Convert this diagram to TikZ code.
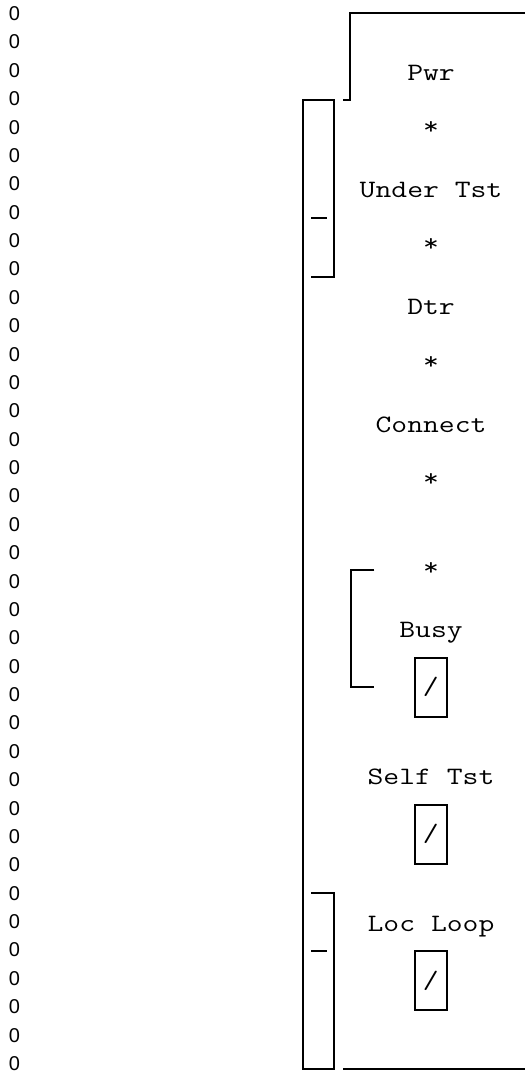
\documentclass[tikz,border=0pt]{standalone}
\usepackage{fontspec}
\newfontfamily\zerofont{Liberation Sans}
\newfontfamily\panelfont[FakeStretch=1.23]{Latin Modern Mono}
\begin{document}
\begin{tikzpicture}[x=0.75pt,y=-0.75pt,
  zero/.style={font=\zerofont\fontsize{15}{18}\selectfont, anchor=base west, inner sep=0pt},
  lamp/.style={font=\panelfont\fontsize{18.75}{22}\selectfont, anchor=base, inner sep=0pt},
  switchbox/.style={draw, line width=1.7pt, minimum width=24pt, minimum height=44.25pt,
    inner sep=0pt, font=\panelfont\fontsize{18.75}{22}\selectfont},
  frame/.style={line width=1.7pt}]
\useasboundingbox (0,0) rectangle (524,1080);

% column of zeros down the left edge
\foreach \i in {0,...,37}
  \node[zero] (z\i) at (8.5,{20.5+28.378*\i}) {0};

% front-panel legends
\node[lamp] (pwr)     at (431,80.5)  {Pwr};
\node[lamp] (ast1)    at (431,135)   {*};
\node[lamp] (undertst) at (431,197.5) {Under Tst};
\node[lamp] (ast2)    at (431,252)   {*};
\node[lamp] (dtr)     at (431,315)   {Dtr};
\node[lamp] (ast3)    at (431,369)   {*};
\node[lamp] (connect) at (431,432)   {Connect};
\node[lamp] (ast4)    at (431,486.5) {*};
\node[lamp] (ast5)    at (431,575)   {*};
\node[lamp] (busy)    at (431,637.5) {Busy};
\node[lamp] (selftst) at (431,784.5) {Self Tst};
\node[lamp] (locloop) at (431,931.7) {Loc Loop};

% toggle switches
\node[switchbox] (swbusy) at (430.7,687.2) {/};
\node[switchbox] (swself) at (430.8,834.2) {/};
\node[switchbox] (swloop) at (430.7,980.5) {/};

% panel outline
\draw[frame] (343.3,100) -- (350,100) -- (350,13.3) -- (526,13.3);
\draw[frame] (311,277) -- (334.3,277) -- (334.3,100) -- (302.7,100)
  -- (302.7,1069.3) -- (334.3,1069.3) -- (334.3,892.7) -- (311,892.7);
\draw[frame] (311,217.7) -- (326.7,217.7);
\draw[frame] (311,950.7) -- (326.7,950.7);
\draw[frame] (343.3,1069.3) -- (526,1069.3);

% bracket beside Busy
\draw[frame] (374.3,570) -- (350.7,570) -- (350.7,686.7) -- (374.3,686.7);
\end{tikzpicture}
\end{document}
